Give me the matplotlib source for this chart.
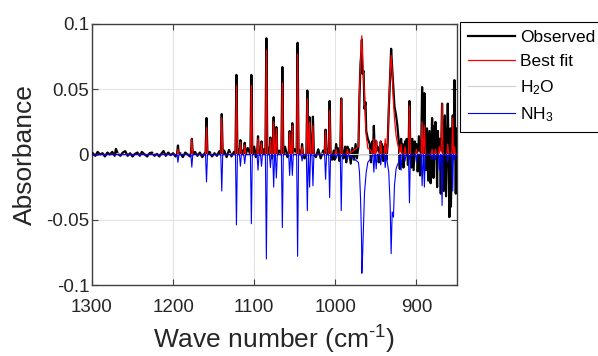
import numpy as np
import matplotlib
matplotlib.use("Agg")
import matplotlib.pyplot as plt

plt.rcParams["font.family"] = ["Liberation Sans", "DejaVu Sans"]
plt.rcParams["mathtext.fontset"] = "custom"
plt.rcParams["mathtext.rm"] = "Liberation Sans"
plt.rcParams["mathtext.default"] = "regular"

# ---------------------------------------------------------------------------
# Line list (wave number in cm-1, absorbance)
# NH3 is drawn with a negative sign, as in the original figure
# ---------------------------------------------------------------------------
line_wn = [1194.0, 1176.9, 1158.8, 1140.0, 1121.9, 1117.0, 1111.7, 1103.5,
           1095.3, 1091.0, 1085.0, 1080.0, 1076.0, 1072.7, 1065.3, 1056.3,
           1053.0, 1046.5, 1041.0, 1034.5, 1031.7, 1027.6, 1012.0, 1007.0,
           999.0, 992.7, 985.0, 952.5, 949.6, 944.0, 938.5, 918.9,
           914.0, 908.6, 900.0, 893.0, 890.2, 880.7, 876.6, 871.7,
           868.4, 861.4, 855.2, 853.2]
line_obs = [0.0069, 0.012, 0.028, 0.031, 0.061, 0.011, 0.009, 0.061,
            0.014, 0.010, 0.089, 0.013, 0.0286, 0.021, 0.067, 0.018,
            0.024, 0.0856, 0.008, 0.049, 0.0286, 0.029, 0.019, 0.041,
            0.008, 0.043, 0.006, 0.022, 0.010, 0.010, 0.008, 0.012,
            0.010, 0.041, 0.008, 0.0516, 0.047, 0.028, 0.025, 0.012,
            0.039, 0.039, 0.030, 0.057]
line_fit = [0.004, 0.012, 0.021, 0.028, 0.053, 0.0095, 0.007, 0.053,
            0.012, 0.009, 0.080, 0.012, 0.025, 0.0197, 0.055, 0.017,
            0.022, 0.077, 0.006, 0.0427, 0.025, 0.022, 0.018, 0.034,
            0.004, 0.0427, 0.004, 0.012, 0.011, 0.010, 0.012, 0.008,
            0.006, 0.0375, 0.004, 0.025, 0.022, 0.004, 0.004, 0.006,
            0.039, 0.008, 0.028, 0.006]
line_nh3 = [-0.006, -0.0097, -0.021, -0.028, -0.054, -0.009, -0.007, -0.053,
            -0.012, -0.009, -0.080, -0.010, -0.025, -0.018, -0.056, -0.016,
            -0.016, -0.078, -0.005, -0.043, -0.025, -0.024, -0.019, -0.033,
            -0.003, -0.043, -0.004, -0.0135, -0.011, -0.008, -0.010, -0.012,
            -0.005, -0.037, -0.006, -0.024, -0.025, -0.004, -0.004, -0.012,
            -0.039, -0.006, -0.028, -0.004]

# broad band near 967 cm-1
band1_wn = [971.5, 970.2, 968.9, 967.7, 967.3, 966.5, 965.2, 964.0, 962.8,
            961.9, 959.9, 957.5]
band1_obs = [0.006, 0.045, 0.070, 0.080, 0.088, 0.062, 0.064, 0.035, 0.040,
             0.018, 0.012, 0.008]
band1_fit = [0.006, 0.048, 0.070, 0.085, 0.091, 0.075, 0.060, 0.045, 0.025,
             0.0145, 0.0046, 0.004]
band1_nh3 = [-0.006, -0.0135, -0.034, -0.064, -0.091, -0.080, -0.054, -0.029,
             -0.020, -0.0135, -0.006, -0.004]

# broad band near 931 cm-1
band2_wn = [935.5, 934.1, 932.4, 931.2, 929.9, 928.3, 927.1, 925.1, 923.5, 921.8]
band2_obs = [0.008, 0.035, 0.060, 0.081, 0.066, 0.050, 0.037, 0.030, 0.022, 0.010]
band2_fit = [0.006, 0.040, 0.062, 0.076, 0.064, 0.040, 0.028, 0.0145, 0.009, 0.005]
band2_nh3 = [-0.008, -0.0135, -0.039, -0.076, -0.044, -0.048, -0.024, -0.011,
             -0.008, -0.006]

# residual wiggles of the observed spectrum between the lines
noise_wn = [1299, 1296, 1293, 1290, 1287, 1284, 1281, 1278, 1275, 1272,
            1270.5, 1268, 1265, 1262, 1259, 1256, 1253, 1250, 1247, 1244,
            1241, 1238.5, 1235, 1232, 1229, 1226, 1223, 1220, 1217, 1214,
            1211.8, 1209, 1206, 1203, 1200, 1197, 1191, 1188, 1185, 1182,
            1179, 1173, 1170, 1167, 1164, 1161, 1155, 1152, 1149, 1146,
            1143, 1137, 1134, 1131, 1128, 1125, 1119, 1114.5, 1108, 1100,
            1098, 1088, 1082.5, 1078, 1069, 1062, 1059, 1050, 1044, 1038,
            1029.5, 1024, 1021, 1018, 1015, 1009.5, 1004, 1002,
            1001, 997, 995, 990, 988, 986.5, 983, 981, 979, 977,
            975, 973.5, 956, 954.5, 951, 948, 946.5, 942.5, 941, 940,
            937, 920.5, 917, 916, 912, 910.5, 906.5, 905, 903.5, 902,
            898.5, 897, 895.5, 888.5, 887, 885.5, 884, 882.5, 879, 878,
            874.5, 873.5, 870, 866.5, 865, 863.5, 859.4, 858, 857.5, 851.5,
            850.5, 849.5]
noise_obs = [0.001, -0.001, 0.002, 0.0, 0.001, -0.0015, 0.0015, 0.0, 0.002, -0.001,
             0.0043, 0.0005, -0.001, 0.0015, 0.0026, -0.001, 0.001, -0.0015, 0.0005, 0.0015,
             -0.001, 0.002, 0.0, -0.0015, 0.001, 0.0015, -0.001, 0.0005, -0.0015, 0.001,
             0.0026, -0.001, 0.0015, -0.0005, 0.001, -0.0015, 0.001, -0.002, 0.0015, 0.0,
             -0.0015, 0.002, -0.001, 0.0015, -0.002, 0.001, 0.002, -0.0015, 0.001, -0.001,
             0.0025, 0.003, -0.002, 0.0035, -0.0015, 0.002, 0.004, 0.003, 0.005, 0.006,
             -0.002, 0.004, 0.005, -0.003, 0.003, 0.006, -0.002, 0.004, 0.003, -0.003,
             0.005, -0.002, 0.004, -0.003, 0.003, 0.004, -0.004, 0.003,
             -0.004, 0.005, -0.005, -0.003, 0.006, -0.006, 0.004, -0.007, 0.005, -0.004,
             0.008, -0.003, -0.006, 0.010, -0.004, 0.006, -0.006, 0.008, -0.005, 0.006,
             -0.004, -0.011, 0.008, -0.010, 0.012, -0.008, -0.010, 0.012, -0.012, 0.010,
             -0.013, 0.014, -0.016, -0.012, 0.020, -0.020, 0.018, -0.022, -0.018, 0.022,
             -0.025, 0.018, -0.030, -0.028, 0.030, -0.032, -0.048, 0.020, -0.040, -0.030,
             0.020, -0.015]

# faint water contribution
h2o_wn = [1268, 1224, 1189, 1152, 1130, 1050, 1016, 948, 920, 897, 870]
h2o_abs = [0.001, 0.0008, 0.001, 0.0012, 0.001, 0.0015, 0.001, 0.002, 0.0015, 0.002, 0.002]

HW = 1.2  # half width of a drawn line (cm-1)


def build_series(centres, heights, bands=(), extra=None):
    xs, ys = [1300.0, 850.0], [0.0, 0.0]
    for c, h in zip(centres, heights):
        xs += [c + HW, c, c - HW]
        ys += [0.0, h, 0.0]
    for bx, by in bands:
        xs += list(bx)
        ys += list(by)
    if extra is not None:
        xs += list(extra[0])
        ys += list(extra[1])
    xs, ys = np.array(xs), np.array(ys)
    order = np.argsort(-xs, kind="stable")
    return xs[order], ys[order]


obs_x, obs_y = build_series(line_wn, line_obs,
                            [(band1_wn, band1_obs), (band2_wn, band2_obs)],
                            (noise_wn, noise_obs))
fit_x, fit_y = build_series(line_wn, line_fit,
                            [(band1_wn, band1_fit), (band2_wn, band2_fit)])
nh3_x, nh3_y = build_series(line_wn, line_nh3,
                            [(band1_wn, band1_nh3), (band2_wn, band2_nh3)])
h2o_x, h2o_y = build_series(h2o_wn, h2o_abs)

# ---------------------------------------------------------------------------
# Plot
# ---------------------------------------------------------------------------
fig = plt.figure(figsize=(5.98, 3.56), dpi=100)
ax = fig.add_axes([0.1538, 0.1994, 0.6104, 0.7332])

ax.plot(obs_x, obs_y, color="black", lw=1.6, label="Observed", zorder=3)
ax.plot(fit_x, fit_y, color="#ff0000", lw=0.9, label="Best fit", zorder=4)
ax.plot(h2o_x, h2o_y, color="#cfcfcf", lw=0.8, label="H$_2$O", zorder=5)
ax.plot(nh3_x, nh3_y, color="#0000ff", lw=0.8, label="NH$_3$", zorder=6)

ax.set_xlim(1300, 850)
ax.set_ylim(-0.1, 0.1)
ax.set_xticks([1300, 1200, 1100, 1000, 900])
ax.set_yticks([-0.1, -0.05, 0, 0.05, 0.1])
ax.set_yticklabels(["-0.1", "-0.05", "0", "0.05", "0.1"])
ax.tick_params(direction="in", top=True, right=True, length=4, width=0.8,
               labelsize=13.5, color="#404040", labelcolor="#262626")
ax.tick_params(axis="x", pad=10)
ax.tick_params(axis="y", pad=2)
for s in ax.spines.values():
    s.set_color("#404040")
    s.set_linewidth(1.0)
ax.grid(True, color="#e3e3e3", lw=0.8)
ax.set_axisbelow(True)

ax.set_xlabel("Wave number (cm$^{\u2010 1}$)", fontsize=19, color="#262626")
ax.set_ylabel("Absorbance", fontsize=19, color="#262626")
ax.yaxis.set_label_coords(-0.15, 0.5)
ax.xaxis.set_label_coords(0.5, -0.147)

leg = ax.legend(loc="upper left", bbox_to_anchor=(0.769, 0.937),
                bbox_transform=fig.transFigure, fontsize=12.5, frameon=True,
                fancybox=False, framealpha=1, edgecolor="black",
                handlelength=2.7, handletextpad=0.3, borderpad=0.45,
                labelspacing=0.5, borderaxespad=0)
leg.get_frame().set_linewidth(0.8)

fig.savefig("out.png", dpi=100)
